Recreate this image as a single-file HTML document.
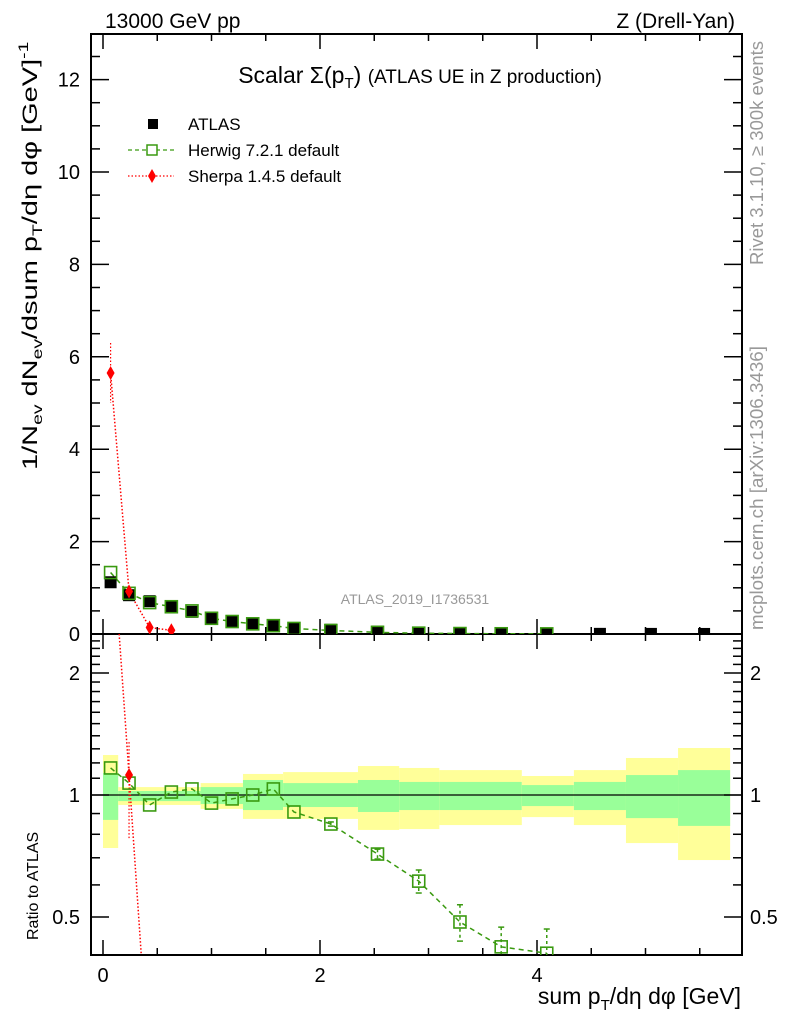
<!DOCTYPE html>
<html><head><meta charset="utf-8"><style>
html,body{margin:0;background:#fff;overflow:hidden;width:786px;height:1024px;}
svg{display:block;font-family:"Liberation Sans",sans-serif;}
</style></head><body>
<svg id="c" width="786" height="1024" viewBox="0 0 786 1024" xmlns="http://www.w3.org/2000/svg">
<text x="105" y="28" font-size="21">13000 GeV pp</text>
<text x="735" y="28" font-size="21" text-anchor="end">Z (Drell-Yan)</text>
<text x="420" y="83" font-size="23" text-anchor="middle">Scalar Σ(p<tspan font-size="15" dy="5">T</tspan><tspan dy="-5">)</tspan> <tspan font-size="19">(ATLAS UE in Z production)</tspan></text>
<text x="415" y="604" font-size="14" fill="#999" text-anchor="middle">ATLAS_2019_I1736531</text>
<text transform="translate(763,265) rotate(-90)" font-size="18.5" fill="#999">Rivet 3.1.10, ≥ 300k events</text>
<text transform="translate(763,630) rotate(-90)" font-size="18.8" fill="#999">mcplots.cern.ch [arXiv:1306.3436]</text>
<text transform="translate(37,470) rotate(-90) scale(1.38,1)" font-size="21">1/N<tspan font-size="14" dy="5">ev</tspan><tspan dy="-5"> dN</tspan><tspan font-size="14" dy="5">ev</tspan><tspan dy="-5">/dsum p</tspan><tspan font-size="14" dy="5">T</tspan><tspan dy="-5">/dη dφ  [GeV]</tspan><tspan font-size="14" dy="-9">-1</tspan></text>
<text transform="translate(38,940) rotate(-90)" font-size="16">Ratio to ATLAS</text>
<text x="741" y="1004" font-size="23" text-anchor="end">sum p<tspan font-size="15" dy="6">T</tspan><tspan dy="-6">/dη dφ [GeV]</tspan></text>
<g id="legend">
<g><rect x="148" y="119" width="10" height="10" fill="#000"/><text x="188" y="130" font-size="17">ATLAS</text></g>
<g><line x1="128" y1="150" x2="174" y2="150" stroke="#3a9a10" stroke-dasharray="4,3" stroke-width="1.3"/><rect x="147" y="145" width="10" height="10" fill="#fff" stroke="#3a9a10" stroke-width="1.5"/><text x="188" y="156" font-size="17">Herwig 7.2.1 default</text></g>
<g><line x1="128" y1="176" x2="174" y2="176" stroke="red" stroke-dasharray="1.5,2" stroke-width="1.3"/><path d="M152,169 L156,176 L152,183 L148,176Z" fill="red"/><text x="188" y="182" font-size="17">Sherpa 1.4.5 default</text></g>
</g>
<g id="plot"></g>
</svg>
<script>
const xs=[0.07,0.24,0.43,0.63,0.82,1.0,1.19,1.38,1.57,1.76,2.1,2.53,2.91,3.29,3.67,4.09,4.58,5.05,5.54];
const atlasVals=[1.12,0.84,0.71,0.58,0.48,0.35,0.28,0.22,0.17,0.13,0.09,0.05,0.03,0.02,0.012,0.006,0.003,0.002,0.001];
const herwigVals=[1.33,0.88,0.68,0.59,0.50,0.34,0.27,0.22,0.18,0.12,0.076,0.036,0.018,0.0097,0.005,0.0025];
const herwigRatio=[1.166,1.07,0.945,1.017,1.035,0.955,0.978,1.0,1.035,0.908,0.848,0.715,0.613,0.486,0.422,0.407];
const herwigRatioErr=[0,0,0,0,0,0,0,0,0,0,0.01,0.02,0.04,0.05,0.05,0.06];
const sherpaX=[0.07,0.24,0.43,0.63];
const sherpaVals=[5.65,0.92,0.14,0.08];
const sherpaRatio=[5.0,1.12,0.2,0.14];
const bandEdges=[0,0.14,0.9,1.29,1.66,2.35,2.73,3.1,3.86,4.34,4.82,5.3,5.78];
const yelLo=[0.740,0.945,0.924,0.873,0.873,0.820,0.824,0.843,0.882,0.843,0.761,0.691];
const yelHi=[1.255,1.046,1.070,1.127,1.139,1.179,1.166,1.152,1.114,1.152,1.234,1.306];
const grnLo=[0.868,0.966,0.950,0.918,0.934,0.908,0.918,0.918,0.939,0.918,0.877,0.839];
const grnHi=[1.133,1.023,1.046,1.089,1.070,1.089,1.077,1.077,1.058,1.077,1.120,1.152];
const mainTicks=[0,2,4,6,8,10,12];
const ratioTicks=[0.5,1,2];
const xTicks=[0,2,4];

const NS="http://www.w3.org/2000/svg";
const g=document.getElementById('plot');
const L=91,R=742,T=34,MB=634,B=955;
const X=v=>103+108.5*v;
const Y=v=>634-46.2*v;
const YR=r=>795-122*Math.log2(r);
function el(t,a,p){const e=document.createElementNS(NS,t);for(const k in a)e.setAttribute(k,a[k]);(p||g).appendChild(e);return e;}
const clipM=el('clipPath',{id:'cm'});el('rect',{x:L,y:T,width:R-L,height:MB-T},clipM);
const clipR=el('clipPath',{id:'cr'});el('rect',{x:L,y:MB,width:R-L,height:B-MB},clipR);
for(let i=0;i<yelLo.length;i++){
 const x1=X(bandEdges[i]),x2=X(bandEdges[i+1]);
 const y=el('rect',{x:x1,y:YR(yelHi[i]),width:x2-x1,height:YR(yelLo[i])-YR(yelHi[i]),fill:'#ffff99'});
 
 
 const gr=el('rect',{x:x1,y:YR(grnHi[i]),width:x2-x1,height:YR(grnLo[i])-YR(grnHi[i]),fill:'#99ff99'});
 
 
}
el('line',{x1:L,x2:R,y1:YR(1),y2:YR(1),stroke:'#000','stroke-width':1.2});
el('rect',{x:L,y:T,width:R-L,height:MB-T,fill:'none',stroke:'#000','stroke-width':2});
el('rect',{x:L,y:MB,width:R-L,height:B-MB,fill:'none',stroke:'#000','stroke-width':2});
for(let v=0;v<=5.8;v+=0.5){const maj=Math.abs(v%2)<1e-6;const len=maj?15:7;
 [[T,1],[MB,-1],[MB,1],[B,-1]].forEach(([y0,d])=>el('line',{x1:X(v),x2:X(v),y1:y0,y2:y0+d*len,stroke:'#000','stroke-width':1.5}));}
xTicks.forEach(v=>{const t=el('text',{x:X(v),y:982,'font-size':20,'text-anchor':'middle'});t.textContent=v;
 
 });
for(let v=0;v<=12.9;v+=0.5){const maj=Math.abs(v%2)<1e-6;const len=maj?18:9;
 el('line',{x1:L,x2:L+len,y1:Y(v),y2:Y(v),stroke:'#000','stroke-width':1.5});
 el('line',{x1:R,x2:R-len,y1:Y(v),y2:Y(v),stroke:'#000','stroke-width':1.5});}
mainTicks.forEach(v=>{const t=el('text',{x:80,y:Y(v)+7,'font-size':20,'text-anchor':'end'});t.textContent=v;
 
 });
for(let k=4;k<=25;k++){const r=k/10;const y=YR(r);if(y<MB||y>B)continue;const maj=(k==5||k==10||k==20);const len=maj?18:9;
 el('line',{x1:L,x2:L+len,y1:y,y2:y,stroke:'#000','stroke-width':1.5});
 el('line',{x1:R,x2:R-len,y1:y,y2:y,stroke:'#000','stroke-width':1.5});}
ratioTicks.forEach(v=>{[[80,'end'],[750,'start']].forEach(([x,a])=>{const t=el('text',{x:x,y:YR(v)+7,'font-size':20,'text-anchor':a});t.textContent=v;
 
 });});
const gm=el('g',{'clip-path':'url(#cm)'});
el('polyline',{points:herwigVals.map((v,i)=>X(xs[i])+','+Y(v)).join(' '),fill:'none',stroke:'#3a9a10','stroke-width':1.5,'stroke-dasharray':'5,4'},gm);
el('polyline',{points:sherpaVals.map((v,i)=>X(sherpaX[i])+','+Y(v)).join(' '),fill:'none',stroke:'red','stroke-width':1.5,'stroke-dasharray':'1.5,2'},gm);
el('line',{x1:X(sherpaX[0]),x2:X(sherpaX[0]),y1:Y(6.3),y2:Y(5.0),stroke:'red','stroke-width':1.2,'stroke-dasharray':'1.5,2'},gm);
atlasVals.forEach((v,i)=>{const r=el('rect',{x:X(xs[i])-6,y:Y(v)-6,width:12,height:12,fill:'#000'},gm);
 
 });
herwigVals.forEach((v,i)=>{const r=el('rect',{x:X(xs[i])-6,y:Y(v)-6,width:12,height:12,fill:'none',stroke:'#3a9a10','stroke-width':1.6},gm);
 
 });
sherpaVals.forEach((v,i)=>{const x=X(sherpaX[i]),y=Y(v);const p=el('path',{d:`M${x},${y-7}L${x+4},${y}L${x},${y+7}L${x-4},${y}Z`,fill:'red'},gm);
 
 });
const gr2=el('g',{'clip-path':'url(#cr)'});
el('polyline',{points:herwigRatio.map((v,i)=>X(xs[i])+','+YR(v)).join(' '),fill:'none',stroke:'#3a9a10','stroke-width':1.5,'stroke-dasharray':'5,4'},gr2);
el('polyline',{points:sherpaRatio.map((v,i)=>X(sherpaX[i])+','+YR(v)).join(' '),fill:'none',stroke:'red','stroke-width':1.5,'stroke-dasharray':'1.5,2'},gr2);
el('line',{x1:X(sherpaX[1]),x2:X(sherpaX[1]),y1:YR(1.35),y2:YR(0.78),stroke:'red','stroke-width':1.2,'stroke-dasharray':'1.5,2'},gr2);
herwigRatio.forEach((v,i)=>{const x=X(xs[i]);const e=herwigRatioErr[i];
 if(e>0){el('line',{x1:x,x2:x,y1:YR(v+e),y2:YR(Math.max(v-e,0.3)),stroke:'#3a9a10','stroke-width':1.5,'stroke-dasharray':'3,3'},gr2);
  el('line',{x1:x-3,x2:x+3,y1:YR(v+e),y2:YR(v+e),stroke:'#3a9a10','stroke-width':1.5},gr2);
  el('line',{x1:x-3,x2:x+3,y1:YR(v-e),y2:YR(v-e),stroke:'#3a9a10','stroke-width':1.5},gr2);}
 const r=el('rect',{x:x-6,y:YR(v)-6,width:12,height:12,fill:'none',stroke:'#3a9a10','stroke-width':1.6},gr2);
 
 });
sherpaRatio.forEach((v,i)=>{const x=X(sherpaX[i]),y=YR(v);const p=el('path',{d:`M${x},${y-7}L${x+4},${y}L${x},${y+7}L${x-4},${y}Z`,fill:'red'},gr2);
 
 });
</script>
</body></html>
